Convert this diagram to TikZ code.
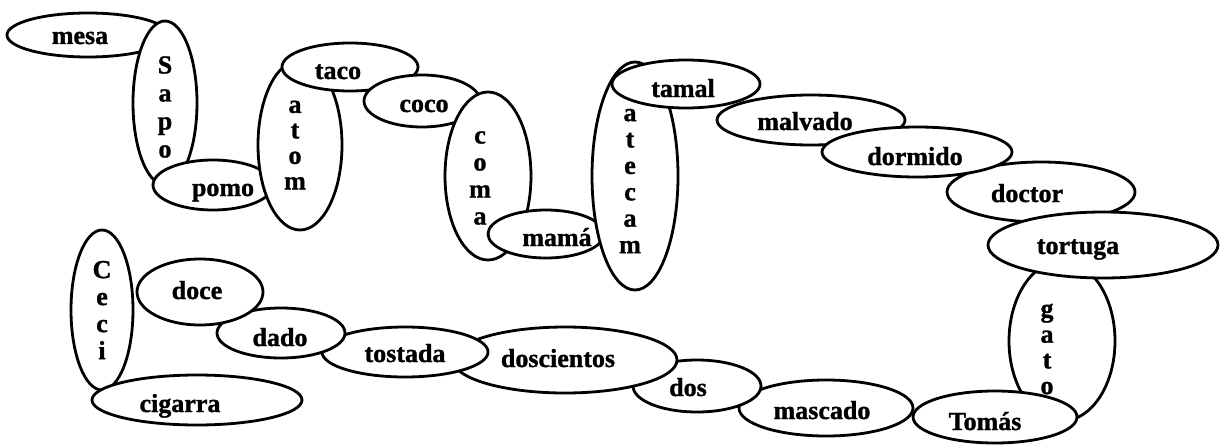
\documentclass[tikz,border=0pt]{standalone}
\usepackage{fontspec}
\setmainfont{Liberation Serif}[BoldFont={Liberation Serif Bold}, BoldFeatures={FakeBold=1.2}]
\usetikzlibrary{shapes.geometric}
\tikzset{
  oval/.style={ellipse, draw=black, fill=white, line width=2.8pt, inner sep=0pt},
  word/.style={font=\rmfamily\bfseries\fontsize{26}{27}\selectfont, inner sep=0pt, text height=12pt, text depth=0pt},
  stack/.style={font=\rmfamily\bfseries\fontsize{26}{#1}\selectfont, inner sep=0pt, align=center},
}
% name, cx, cy, rx, ry, dx, dy, text
\newcommand\ovalword[8]{%
  \node[oval, minimum width=2*#4pt, minimum height=2*#5pt] (#1) at (#2,#3) {};
  \node[word] (#1-t) at ([shift={(#6,#7+3)}]#1.center) {#8};}
\newcommand\ovalstack[9]{%
  \node[oval, minimum width=2*#4pt, minimum height=2*#5pt] (#1) at (#2,#3) {};
  \node[stack=#9] (#1-t) at ([shift={(#6,#7)}]#1.center) {#8};}
\begin{document}
\begin{tikzpicture}[x=1pt,y=-1pt]
\useasboundingbox (0,0) rectangle (1222,444);
\ovalword{mesa}{88}{35}{81}{22}{-8}{0}{mesa}
\ovalstack{sapo}{165}{103}{32}{82}{0}{4}{S\\a\\p\\o}{28}
\ovalword{pomo}{213}{185}{60}{25}{10}{2}{pomo}
\ovalstack{atom}{300}{145}{42}{85}{-5}{0}{a\\t\\o\\m}{25.5}
\ovalword{taco}{350}{67}{68}{24}{-12}{3}{taco}
\ovalword{coco}{422}{101}{58}{26}{2}{2}{coco}
\ovalstack{coma}{488}{176}{43}{84}{-8}{2}{c\\o\\m\\a}{27}
\ovalword{mama}{546}{234}{58}{24}{11}{3}{mamá}
\ovalstack{atecam}{635}{176}{43}{114}{-5}{5}{a\\t\\e\\c\\a\\m}{26.4}
\ovalword{malvado}{811}{120}{94}{25}{-6}{1}{malvado}
\ovalword{tamal}{686}{84}{74}{24}{-3}{4}{tamal}
\ovalword{doctor}{1041}{192}{94}{30}{-14}{1}{doctor}
\ovalword{dormido}{917}{152}{95}{25}{-2}{4}{dormido}
\ovalstack{gato}{1062}{341}{53}{80}{-15}{8}{g\\a\\t\\o}{25.7}
\ovalword{tortuga}{1103}{245}{115}{33}{-25}{0}{tortuga}
\ovalword{tomas}{995}{417}{82}{26}{-10}{4}{Tomás}
\ovalword{mascado}{826}{408}{87}{28}{-4}{2}{mascado}
\ovalword{dos}{697}{386}{64}{26}{-9}{1}{dos}
\ovalword{doscientos}{565}{360}{112}{33}{-7}{-2}{doscientos}
\ovalword{tostada}{405}{352}{83}{25}{0}{1}{tostada}
\ovalword{dado}{281}{333}{64}{25}{-1}{4}{dado}
\ovalword{doce}{200}{292}{63}{33}{-3}{-2}{doce}
\ovalstack{ceci}{102}{310}{31}{80}{0}{0}{C\\e\\c\\i}{27}
\ovalword{cigarra}{197}{400}{105}{25}{-17}{3}{cigarra}
\end{tikzpicture}
\end{document}
